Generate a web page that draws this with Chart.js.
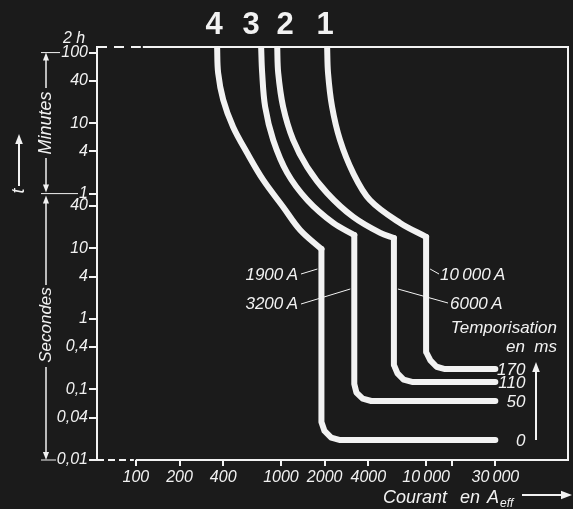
<!DOCTYPE html>
<html>
<head>
<meta charset="utf-8">
<script src="https://cdn.jsdelivr.net/npm/chart.js@4.4.1/dist/chart.umd.min.js"></script>
<style>
html,body{margin:0;padding:0;background:#1b1b1b;}
#cadre{width:573px;height:509px;position:relative;}
</style>
</head>
<body>
<div id="cadre"><canvas id="myChart"></canvas></div>
<script>
// courbes de declenchement : courant en A, temps en s
// partie a temps inverse (du haut jusqu'au seuil)
const courbe1I = [2080, 2110, 2250, 2550, 3140, 4100, 6620, 10000];
const courbe1T = [7200, 3090, 1020, 346, 118, 48.7, 23, 14.6];
const courbe2I = [942, 957, 1035, 1213, 1517, 2081, 3148, 4831, 6000];
const courbe2T = [7200, 3090, 1020, 346, 143, 61, 28, 16.6, 14.1];
const courbe3I = [730, 742, 778, 884, 1104, 1517, 2291, 3200];
const courbe3T = [7200, 3090, 1020, 346, 118, 48.7, 23, 15.5];
const courbe4I = [363, 369, 400, 468, 585, 754, 1035, 1355, 1900];
const courbe4T = [7200, 3090, 1280, 529, 226, 93.8, 38.8, 18.3, 9.8];
// partie instantanee (seuil puis temporisation)
const seuil1I = [10000, 10000, 10700, 11800, 13500, 30000];
const seuil1T = [14.6, 0.34, 0.258, 0.21, 0.195, 0.195];
const seuil2I = [6000, 6000, 6350, 7000, 8000, 30000];
const seuil2T = [14.1, 0.223, 0.169, 0.138, 0.128, 0.128];
const seuil3I = [3200, 3200, 3310, 3655, 4190, 30000];
const seuil3T = [15.5, 0.12, 0.0906, 0.0741, 0.0687, 0.0687];
const seuil4I = [1900, 1900, 1995, 2218, 2560, 30000];
const seuil4T = [9.8, 0.0346, 0.0258, 0.0208, 0.0192, 0.0192];

const numeros = ['1', '2', '3', '4'];
const seuils = ['10\u2009000\u2009A', '6000\u2009A', '3200\u2009A', '1900\u2009A'];
const tempos = ['170', '110', '50', '0'];

const xTicks = [100, 200, 400, 1000, 2000, 4000, 10000, 15000, 30000];
const xLabels = ['100', '200', '400', '1000', '2000', '4000', '10\u2009000', '', '30\u2009000'];
const yTicks = [6000, 2400, 600, 240, 60, 40, 10, 4, 1, 0.4, 0.1, 0.04, 0.01];
const yLabels = ['100', '40', '10', '4', '1', '40', '10', '4', '1', '0,4', '0,1', '0,04', '0,01'];

const blanc = '#f2f2f2';
const police = '"Liberation Sans", Arial, sans-serif';

function points(I, T) {
  return I.map((v, i) => ({x: v, y: T[i]}));
}

function fleche(ctx, x1, y1, x2, y2, t) {
  const a = Math.atan2(y2 - y1, x2 - x1);
  ctx.beginPath();
  ctx.moveTo(x1, y1);
  ctx.lineTo(x2 - t * 0.6 * Math.cos(a), y2 - t * 0.6 * Math.sin(a));
  ctx.stroke();
  ctx.beginPath();
  ctx.moveTo(x2, y2);
  ctx.lineTo(x2 - t * Math.cos(a) + t * 0.38 * Math.sin(a), y2 - t * Math.sin(a) - t * 0.38 * Math.cos(a));
  ctx.lineTo(x2 - t * Math.cos(a) - t * 0.38 * Math.sin(a), y2 - t * Math.sin(a) + t * 0.38 * Math.cos(a));
  ctx.closePath();
  ctx.fill();
}

function ligne(ctx, x1, y1, x2, y2) {
  ctx.beginPath();
  ctx.moveTo(x1, y1);
  ctx.lineTo(x2, y2);
  ctx.stroke();
}

const cadrePlugin = {
  id: 'cadre',
  beforeDatasetsDraw(chart) {
    const {ctx, chartArea: a} = chart;
    const x100 = chart.scales.x.getPixelForValue(100);
    ctx.save();
    ctx.strokeStyle = blanc;
    ctx.lineWidth = 2;
    ctx.beginPath();
    ctx.moveTo(a.left, a.top - 1); ctx.lineTo(a.left, a.bottom + 1);
    ctx.moveTo(a.right, a.top - 1); ctx.lineTo(a.right, a.bottom + 1);
    ctx.moveTo(x100 + 7, a.top); ctx.lineTo(a.right, a.top);
    ctx.moveTo(x100, a.bottom); ctx.lineTo(a.right, a.bottom);
    ctx.stroke();
    ctx.setLineDash([10, 7]);
    ligne(ctx, a.left, a.top, x100 + 5, a.top);
    ctx.setLineDash([7, 4]);
    ligne(ctx, a.left, a.bottom, x100 - 2, a.bottom);
    ctx.restore();
  }
};

const textesPlugin = {
  id: 'textes',
  afterDraw(chart) {
    const {ctx, chartArea: a} = chart;
    const xs = chart.scales.x, ys = chart.scales.y;
    const debuts = [courbe1I[0], courbe2I[0], courbe3I[0], courbe4I[0]];
    const fins = [seuil1T[seuil1T.length - 1], seuil2T[seuil2T.length - 1], seuil3T[seuil3T.length - 1], seuil4T[seuil4T.length - 1]];
    const xFin = xs.getPixelForValue(seuil1I[seuil1I.length - 1]);
    ctx.save();
    ctx.fillStyle = blanc;
    ctx.strokeStyle = blanc;
    ctx.textBaseline = 'alphabetic';

    // numeros des courbes
    ctx.font = 'bold 31px ' + police;
    ctx.textAlign = 'center';
    const decal = [-2, 8, -10, -3];
    numeros.forEach((n, i) => ctx.fillText(n, xs.getPixelForValue(debuts[i]) + decal[i], 34));

    ctx.font = 'italic 16px ' + police;
    ctx.textAlign = 'left';
    ctx.fillText('2 h', 63, 43);

    // seuils instantanes
    ctx.font = 'italic 17px ' + police;
    ctx.lineWidth = 1;
    const x1 = xs.getPixelForValue(10000), x2 = xs.getPixelForValue(6000);
    const x3 = xs.getPixelForValue(3200), x4 = xs.getPixelForValue(1900);
    ctx.textAlign = 'right';
    ctx.fillText(seuils[3], 298, 280);
    ligne(ctx, 301, 274, x4 - 4, 269);
    ctx.fillText(seuils[2], 298, 309);
    ligne(ctx, 301, 304, x3 - 4, 289);
    ctx.textAlign = 'left';
    ctx.fillText(seuils[0], 440, 280);
    ligne(ctx, x1 + 4, 269, 439, 274);
    ctx.fillText(seuils[1], 450, 309);
    ligne(ctx, x2 + 4, 289, 448, 303);

    // temporisations
    ctx.textAlign = 'right';
    ctx.textBaseline = 'middle';
    tempos.forEach((t, i) => ctx.fillText(t, xFin + 30, ys.getPixelForValue(fins[i]) + 1));
    ctx.textBaseline = 'alphabetic';
    ctx.fillText('Temporisation', 557, 333);
    ctx.fillText('en  ms', 557, 352);
    ctx.lineWidth = 2;
    fleche(ctx, 536, ys.getPixelForValue(fins[3]), 536, 362, 10);

    // axe des courants
    ctx.textAlign = 'left';
    ctx.font = 'italic 18px ' + police;
    ctx.fillText('Courant', 383, 503);
    ctx.fillText('en', 460, 503);
    ctx.fillText('A', 487, 503);
    ctx.font = 'italic 12px ' + police;
    ctx.fillText('eff', 500, 507);
    fleche(ctx, 522, 495, 572, 495, 11);

    // axe des temps
    const yHaut = ys.getPixelForValue(6000);
    const yMin = ys.getPixelForValue(60);
    const yBas = ys.getPixelForValue(0.01);
    ctx.save();
    ctx.translate(19, 191);
    ctx.rotate(-Math.PI / 2);
    ctx.font = 'italic 18px ' + police;
    ctx.textAlign = 'center';
    ctx.textBaseline = 'middle';
    ctx.fillText('t', 0, 0);
    ctx.restore();
    fleche(ctx, 19, 186, 19, 134, 10);

    ctx.lineWidth = 1;
    ligne(ctx, 41, yHaut, 60, yHaut);
    ligne(ctx, 41, yMin, 78, yMin);
    ligne(ctx, 41, yBas, 56, yBas);
    ctx.lineWidth = 1.5;
    fleche(ctx, 46, 88, 46, yHaut, 8);
    fleche(ctx, 46, 158, 46, yMin - 1, 8);
    fleche(ctx, 46, 285, 46, yMin + 2, 8);
    fleche(ctx, 46, 367, 46, yBas, 8);

    ctx.textAlign = 'center';
    ctx.textBaseline = 'middle';
    ctx.save();
    ctx.translate(46, 123);
    ctx.rotate(-Math.PI / 2);
    ctx.font = 'italic 18px ' + police;
    ctx.fillText('Minutes', 0, 0);
    ctx.restore();
    ctx.save();
    ctx.translate(46, 325);
    ctx.rotate(-Math.PI / 2);
    ctx.font = 'italic 17px ' + police;
    ctx.fillText('Secondes', 0, 0);
    ctx.restore();

    ctx.restore();
  }
};

function jeu(I, T, tension) {
  return {
    data: points(I, T),
    borderColor: blanc,
    borderWidth: 6,
    tension: tension,
    pointRadius: 0,
    borderJoinStyle: 'round',
    borderCapStyle: 'round',
    fill: false
  };
}

const ctx = document.getElementById('myChart');
const graphe = new Chart(ctx, {
  type: 'line',
  data: {
    datasets: [
      jeu(courbe1I, courbe1T, 0.35),
      jeu(courbe2I, courbe2T, 0.35),
      jeu(courbe3I, courbe3T, 0.35),
      jeu(courbe4I, courbe4T, 0.35),
      jeu(seuil1I, seuil1T, 0),
      jeu(seuil2I, seuil2T, 0),
      jeu(seuil3I, seuil3T, 0),
      jeu(seuil4I, seuil4T, 0)
    ]
  },
  options: {
    responsive: true,
    maintainAspectRatio: false,
    animation: false,
    layout: {padding: {left: 0, right: 5, top: 47, bottom: 0}},
    plugins: {legend: {display: false}, tooltip: {enabled: false}},
    scales: {
      x: {
        type: 'logarithmic',
        min: 54,
        max: 95000,
        afterBuildTicks: (s) => { s.ticks = xTicks.map(v => ({value: v})); },
        afterFit: (s) => { s.height = 49; },
        border: {display: false},
        grid: {drawOnChartArea: false, color: blanc, lineWidth: 2, tickLength: 6},
        ticks: {
          color: blanc,
          font: {family: police, size: 16, style: 'italic'},
          autoSkip: false,
          maxRotation: 0,
          minRotation: 0,
          padding: 2,
          callback: (v, i) => xLabels[i]
        }
      },
      y: {
        type: 'logarithmic',
        min: 0.01,
        max: 7200,
        afterBuildTicks: (s) => { s.ticks = yTicks.map(v => ({value: v})); },
        afterFit: (s) => { s.width = 97; },
        border: {display: false},
        grid: {drawOnChartArea: false, color: blanc, lineWidth: 2, tickLength: 8},
        ticks: {
          color: blanc,
          font: {family: police, size: 16, style: 'italic'},
          autoSkip: false,
          padding: 1,
          callback: (v, i) => yLabels[i]
        }
      }
    }
  },
  plugins: [cadrePlugin, textesPlugin]
});
</script>
</body>
</html>
